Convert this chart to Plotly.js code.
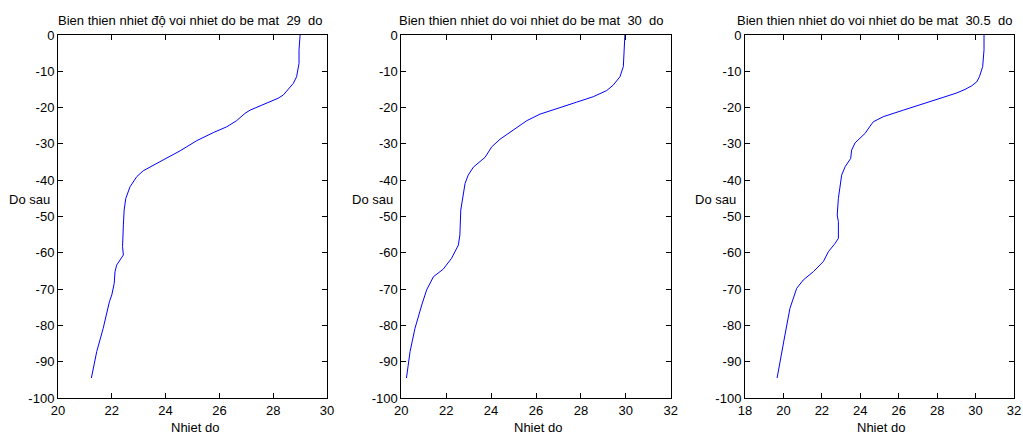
<!DOCTYPE html>
<html>
<head>
<meta charset="utf-8">
<script src="https://cdn.plot.ly/plotly-3.0.1.min.js"></script>
<style>html,body{margin:0;padding:0;background:#fff;}#chart{width:1023px;height:434px;}</style>
</head>
<body>
<div id="chart"></div>
<script>
// Panel 1: surface temperature 29
const depth1 = [0, -4.1, -7.8, -11.5, -13.3, -16.5, -17.4, -18.8, -20.7, -21.6, -23.6, -25.3, -26.9, -29.1, -31.9, -34.9, -37.4, -39.0, -41.8, -45.0, -48.2, -52.3, -58.3, -60.6, -63.4, -65.2, -68.4, -71.6, -73.5, -80.8, -87.2, -94.5];
const temp1  = [29.0, 28.96, 28.96, 28.87, 28.75, 28.38, 28.19, 27.76, 27.14, 26.95, 26.64, 26.27, 25.77, 25.16, 24.54, 23.79, 23.17, 22.93, 22.68, 22.52, 22.46, 22.43, 22.40, 22.43, 22.18, 22.12, 22.09, 22.0, 21.91, 21.68, 21.44, 21.24];
// Panel 2: surface temperature 30
const depth2 = [0, -4.1, -8.7, -11.5, -13.8, -15.3, -17.0, -18.5, -20.2, -21.8, -23.6, -26.2, -28.7, -30.8, -33.7, -36.4, -38.6, -40.9, -45.0, -48.2, -55.1, -57.9, -61.5, -64.5, -66.6, -70.2, -74.4, -80.8, -87.2, -94.5];
const temp2  = [29.96, 29.92, 29.89, 29.74, 29.44, 29.15, 28.55, 27.81, 26.92, 26.18, 25.59, 24.99, 24.40, 24.03, 23.73, 23.21, 22.98, 22.84, 22.72, 22.65, 22.61, 22.54, 22.24, 21.87, 21.43, 21.13, 20.91, 20.61, 20.39, 20.23];
// Panel 3: surface temperature 30.5
const depth3 = [0, -4.1, -8.7, -11.5, -12.9, -14.0, -15.0, -16.0, -17.2, -18.4, -20.7, -22.5, -23.9, -25.1, -27.1, -29.7, -31.7, -34.0, -36.3, -38.6, -42.7, -45.0, -49.6, -51.4, -56.0, -57.4, -59.7, -62.4, -65.2, -67.5, -69.8, -75.3, -82.6, -94.5];
const temp3  = [30.44, 30.44, 30.37, 30.2, 30.06, 29.8, 29.45, 29.0, 28.3, 27.63, 26.24, 25.2, 24.68, 24.51, 24.25, 23.73, 23.55, 23.5, 23.21, 23.03, 22.91, 22.86, 22.80, 22.86, 22.86, 22.69, 22.34, 22.08, 21.56, 21.03, 20.69, 20.34, 20.08, 19.67];

const titles = ["Bien thien nhiet độ voi nhiet do be mat  29  do",
                "Bien thien nhiet do voi nhiet do be mat  30  do",
                "Bien thien nhiet do voi nhiet do be mat  30.5  do"];
const xTitle = "Nhiet do";
const yTitle = "Do sau";
const yTickVals = [0, -10, -20, -30, -40, -50, -60, -70, -80, -90, -100];
const yTickText = ["0", "-10", "-20", "-30", "-40", "-50", "-60", "-70", "-80", "-90", "-100"];
const xTickVals1 = [20, 22, 24, 26, 28, 30];
const xTickVals2 = [20, 22, 24, 26, 28, 30, 32];
const xTickVals3 = [18, 20, 22, 24, 26, 28, 30, 32];
const xRanges = [[20, 30], [20, 32], [18, 32]];

const W = 1023, H = 434;
const px = v => v / W, py = v => 1 - v / H;
const FONT = {family: "Liberation Sans, Arial, sans-serif", size: 13, color: "#000"};

const domainsX = [[58, 327], [401.3, 670.7], [745, 1014]];
const domainY = [py(398), py(35)];

function xa(i, vals) {
  return {
    domain: [px(domainsX[i][0]), px(domainsX[i][1])],
    range: xRanges[i], anchor: i === 0 ? 'y' : 'y' + (i + 1),
    tickvals: vals, ticktext: vals.map(String),
    ticks: 'inside', ticklen: 5, tickwidth: 1, tickcolor: '#000',
    showline: true, linecolor: '#000', linewidth: 1, mirror: 'ticks',
    showgrid: false, zeroline: false, tickfont: FONT, fixedrange: true
  };
}
function ya(i) {
  return {
    domain: domainY, range: [-100, 0], anchor: i === 0 ? 'x' : 'x' + (i + 1),
    tickvals: yTickVals, ticktext: yTickText,
    ticks: 'inside', ticklen: 5, tickwidth: 1, tickcolor: '#000',
    showline: true, linecolor: '#000', linewidth: 1, mirror: 'ticks',
    showgrid: false, zeroline: false, tickfont: FONT, fixedrange: true
  };
}

const line = {color: 'rgb(0,0,255)', width: 1};
const data = [
  {x: temp1, y: depth1, type: 'scatter', mode: 'lines', line: line, xaxis: 'x', yaxis: 'y', hoverinfo: 'skip'},
  {x: temp2, y: depth2, type: 'scatter', mode: 'lines', line: line, xaxis: 'x2', yaxis: 'y2', hoverinfo: 'skip'},
  {x: temp3, y: depth3, type: 'scatter', mode: 'lines', line: line, xaxis: 'x3', yaxis: 'y3', hoverinfo: 'skip'}
];

const titleCenters = [190, 531.5, 874];
const yLabelRight = [52, 395, 738];
const xLabelCenters = [194.5, 537.5, 881];
const annotations = [];
for (let i = 0; i < 3; i++) {
  annotations.push({text: titles[i], x: px(titleCenters[i]), y: py(20), xref: 'paper', yref: 'paper', xanchor: 'center', yanchor: 'middle', showarrow: false, font: FONT});
  annotations.push({text: yTitle, x: px(yLabelRight[i]), y: py(199), xref: 'paper', yref: 'paper', xanchor: 'right', yanchor: 'middle', showarrow: false, font: FONT});
  annotations.push({text: xTitle, x: px(xLabelCenters[i]), y: py(427), xref: 'paper', yref: 'paper', xanchor: 'center', yanchor: 'middle', showarrow: false, font: FONT});
}

const layout = {
  width: W, height: H, margin: {l: 0, r: 0, t: 0, b: 0},
  paper_bgcolor: '#fff', plot_bgcolor: '#fff', showlegend: false,
  font: FONT,
  xaxis: xa(0, xTickVals1), xaxis2: xa(1, xTickVals2), xaxis3: xa(2, xTickVals3),
  yaxis: ya(0), yaxis2: ya(1), yaxis3: ya(2),
  annotations: annotations
};
Plotly.newPlot('chart', data, layout, {displayModeBar: false, staticPlot: true});
</script>
</body>
</html>
